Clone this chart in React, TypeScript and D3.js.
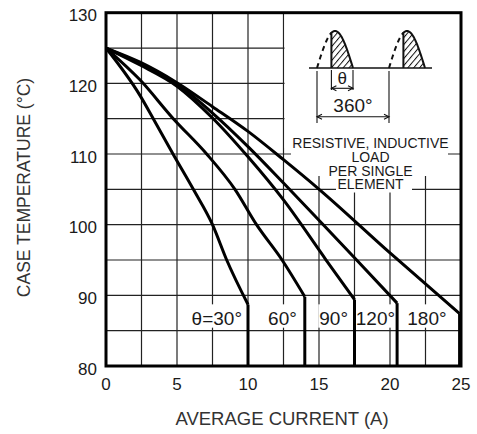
import { useEffect, useRef } from 'react';
import * as d3 from 'd3';

const W = 477;
const H = 434;
const margin = { top: 12.7, right: 16, bottom: 68, left: 106 };

// average current (A), case temperature (°C)
const curve30 = [[0, 125], [2.39, 118.3], [3.33, 115], [4.72, 110], [6.15, 105], [7.5, 100], [8.5, 95], [10, 88.7]];
const curve60 = [[0, 125], [2.39, 120.5], [4.74, 115], [7.09, 110], [9.08, 105], [10.6, 100], [12.4, 95], [14, 89.8]];
const curve90 = [[0, 125], [2.4, 122.6], [5, 119.6], [7.5, 115.1], [10, 109.6], [12.5, 103.5], [15.5, 95], [17.5, 89.4]];
const curve120 = [[0, 125], [2.4, 122.8], [5, 119.9], [7.5, 115.8], [10, 111.05], [12.5, 105.9], [15.3, 100], [17.65, 95], [20.5, 88.9]];
const curve180 = [[0, 125], [2.4, 123], [5, 120.1], [7.5, 116.7], [10, 113.2], [12.5, 109.2], [15.07, 104.9], [20, 96], [24.9, 87.4]];

const curveLabels = ['θ=30°', '60°', '90°', '120°', '180°'];
const curves = [curve30, curve60, curve90, curve120, curve180];
const noteLines = ['RESISTIVE, INDUCTIVE', 'LOAD', 'PER SINGLE', 'ELEMENT'];

// layout only
const labelGap = [6, 8, 6.5, 2, 13];

export default function App() {
  const ref = useRef<SVGSVGElement>(null);

  useEffect(() => {
    if (!ref.current) return;
    const svg = d3.select(ref.current);
    svg.selectAll('*').remove();

    const font = '"Liberation Sans", Arial, sans-serif';
    const ink = '#1a1a1a';

    const x = d3.scaleLinear().domain([0, 25]).range([margin.left, W - margin.right]);
    const y = d3.scaleLinear().domain([80, 130]).range([H - margin.bottom, margin.top]);

    // grid
    const grid = svg.append('g').attr('stroke', '#222').attr('stroke-width', 1.2);
    grid.selectAll('line.v')
      .data(d3.range(0, 25.001, 2.5))
      .enter().append('line')
      .attr('x1', d => x(d)).attr('x2', d => x(d))
      .attr('y1', y(80)).attr('y2', y(130));
    grid.selectAll('line.h')
      .data(y.ticks(10))
      .enter().append('line')
      .attr('x1', x(0)).attr('x2', x(25))
      .attr('y1', d => y(d)).attr('y2', d => y(d));

    // white area behind the inset and the note
    const mask = svg.append('g').attr('fill', 'white');
    mask.append('rect').attr('x', x(12.5) + 1).attr('y', y(130) + 1)
      .attr('width', x(25) - x(12.5) - 2).attr('height', y(111) - y(130));
    mask.append('rect').attr('x', 291).attr('y', 136).attr('width', 157).attr('height', 40);
    mask.append('rect').attr('x', 336).attr('y', 175).attr('width', 76).attr('height', 17.5);

    // note text
    svg.append('g').selectAll('text')
      .data(noteLines)
      .enter().append('text')
      .attr('x', 370.5)
      .attr('y', (_, i) => [147.7, 161.7, 176, 189.3][i])
      .attr('text-anchor', 'middle')
      .attr('font-family', font).attr('font-size', 14).attr('fill', ink)
      .text(d => d);

    // curve labels with white backing
    const labG = svg.append('g');
    curves.forEach((pts, i) => {
      const end = pts[pts.length - 1][0];
      const t = labG.append('text')
        .attr('x', x(end) - labelGap[i])
        .attr('y', y(85) - 6)
        .attr('text-anchor', 'end')
        .attr('font-family', font).attr('font-size', 19).attr('fill', ink)
        .text(curveLabels[i]);
      const b = (t.node() as SVGTextElement).getBBox();
      labG.insert('rect', 'text')
        .attr('x', b.x - 1).attr('y', y(90) + 9).attr('width', b.width + 2)
        .attr('height', y(85) - y(90) - 12).attr('fill', 'white');
    });

    // curves
    const line = d3.line<number[]>().x(d => x(d[0])).y(d => y(d[1])).curve(d3.curveMonotoneX);
    const cg = svg.append('g').attr('fill', 'none').attr('stroke', '#000').attr('stroke-width', 3);
    curves.forEach(pts => {
      cg.append('path').attr('d', line(pts) as string).attr('stroke-linejoin', 'round');
      const [ex, ey] = pts[pts.length - 1];
      cg.append('line').attr('x1', x(ex)).attr('x2', x(ex)).attr('y1', y(ey)).attr('y2', y(80));
    });

    // inset waveform
    const base = 68;
    const amp = 37;
    const alpha = 72;
    const p = d3.scaleLinear().domain([0, 360]).range([317, 389]);
    const sy = (a: number) => base - amp * Math.sin((a * Math.PI) / 180);
    const ins = svg.append('g').attr('fill', 'none').attr('stroke', '#111');

    const defs = svg.append('defs');
    defs.append('pattern').attr('id', 'hatch').attr('patternUnits', 'userSpaceOnUse')
      .attr('width', 4.5).attr('height', 10).attr('patternTransform', 'rotate(40)')
      .append('rect').attr('x', 0).attr('y', 0).attr('width', 1).attr('height', 10).attr('fill', '#111');

    ins.append('line').attr('x1', 309).attr('x2', 432).attr('y1', base).attr('y2', base).attr('stroke-width', 1.3);

    [0, 360].forEach(off => {
      const dash = d3.range(off, off + alpha + 0.01, 2).map(a => [p(a), sy(a - off)]);
      const solid = d3.range(off + alpha, off + 180.01, 2).map(a => [p(a), sy(a - off)]);
      const l = d3.line<number[]>().x(d => d[0]).y(d => d[1]);
      ins.append('path').attr('d', l(dash) as string).attr('stroke-width', 2).attr('stroke-dasharray', '5,4');
      const area = [[p(off + alpha), base], ...solid];
      ins.append('path').attr('d', (l(area) as string) + 'Z').attr('fill', 'url(#hatch)').attr('stroke', 'none');
      ins.append('path').attr('d', l(area) as string).attr('stroke-width', 2);
    });

    // theta and 360° dimension marks
    const tick = (xx: number, y1: number, y2: number) =>
      ins.append('line').attr('x1', xx).attr('x2', xx).attr('y1', y1).attr('y2', y2).attr('stroke-width', 1.1);
    const arrow = (x1: number, x2: number, yy: number) => {
      ins.append('line').attr('x1', x1).attr('x2', x2).attr('y1', yy).attr('y2', yy).attr('stroke-width', 1.1);
      ins.append('path').attr('d', `M${x1 + 5},${yy - 2.5}L${x1},${yy}L${x1 + 5},${yy + 2.5}`).attr('stroke-width', 1.1);
      ins.append('path').attr('d', `M${x2 - 5},${yy - 2.5}L${x2},${yy}L${x2 - 5},${yy + 2.5}`).attr('stroke-width', 1.1);
    };
    tick(p(alpha), base + 2, 90);
    tick(p(180), base + 2, 90);
    arrow(p(alpha), p(180), 88.3);
    tick(p(0), base + 3, 123);
    tick(p(360), base + 3, 123);
    arrow(p(0), p(360), 116.7);

    svg.append('text').attr('x', (p(alpha) + p(180)) / 2).attr('y', 83.5)
      .attr('text-anchor', 'middle').attr('font-family', font).attr('font-size', 17).attr('fill', ink).text('θ');
    svg.append('text').attr('x', p(180)).attr('y', 111.5)
      .attr('text-anchor', 'middle').attr('font-family', font).attr('font-size', 19).attr('fill', ink).text('360°');

    // frame
    svg.append('rect').attr('x', x(0)).attr('y', y(130))
      .attr('width', x(25) - x(0)).attr('height', y(80) - y(130))
      .attr('fill', 'none').attr('stroke', '#000').attr('stroke-width', 3);

    // axes
    svg.append('g').selectAll('text')
      .data(x.ticks(5))
      .enter().append('text')
      .attr('x', d => x(d)).attr('y', y(80) + 24)
      .attr('text-anchor', 'middle')
      .attr('font-family', font).attr('font-size', 17).attr('fill', ink)
      .text(d => d);
    svg.append('g').selectAll('text')
      .data(y.ticks(5))
      .enter().append('text')
      .attr('x', x(0) - 9).attr('y', d => y(d) + 8.5)
      .attr('text-anchor', 'end')
      .attr('font-family', font).attr('font-size', 17).attr('fill', ink)
      .text(d => d);

    svg.append('text')
      .attr('x', 282).attr('y', 425)
      .attr('text-anchor', 'middle')
      .attr('font-family', font).attr('font-size', 18.5).attr('fill', '#333')
      .text('AVERAGE CURRENT (A)');
    svg.append('text')
      .attr('transform', 'translate(29.5,187.5) rotate(-90)')
      .attr('text-anchor', 'middle')
      .attr('font-family', font).attr('font-size', 17.5).attr('fill', '#333')
      .text('CASE TEMPERATURE (°C)');
  }, []);

  return (
    <svg ref={ref} width={W} height={H}
      style={{ position: 'absolute', left: 0, top: 0, background: 'white' }} />
  );
}
